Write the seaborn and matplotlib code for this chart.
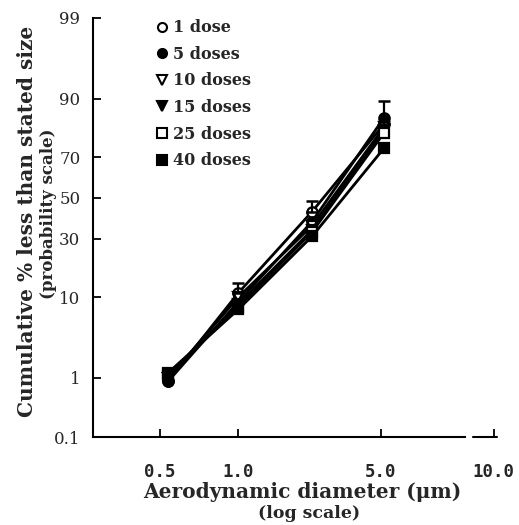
import math
import numpy as np
import pandas as pd
import seaborn as sns
import matplotlib.pyplot as plt
from matplotlib.lines import Line2D

# data
diameter = [0.54, 1.0, 2.3, 5.1]
doses = ['1 dose', '5 doses', '10 doses', '15 doses', '25 doses', '40 doses']
pct_1 = [0.9, 11.0, 43.0, 83.0]
pct_5 = [0.9, 9.0, 38.0, 85.0]
pct_10 = [1.0, 10.0, 36.0, 82.0]
pct_15 = [1.0, 8.5, 34.0, 81.0]
pct_25 = [1.1, 8.0, 33.0, 80.0]
pct_40 = [1.2, 7.5, 31.0, 74.0]
err_up_1 = [0.0, 2.5, 5.5, 6.5]
x_ticks = [0.5, 1.0, 5.0, 10.0]
y_ticks = [0.1, 1, 10, 30, 50, 70, 90, 99]

series = [pct_1, pct_5, pct_10, pct_15, pct_25, pct_40]
markers = ['o', 'o', 'v', 'v', 's', 's']
filled = [False, True, False, True, False, True]

rows = []
for name, vals in zip(doses, series):
    for d, v in zip(diameter, vals):
        rows.append({'dose': name, 'diameter': d, 'pct': v})
df = pd.DataFrame(rows)


# probability (probit) scale without scipy
def probit(p):
    p = np.clip(np.asarray(p, dtype=float) / 100.0, 1e-9, 1 - 1e-9)
    a = [-3.969683028665376e+01, 2.209460984245205e+02, -2.759285104469687e+02,
         1.383577518672690e+02, -3.066479806614716e+01, 2.506628277459239e+00]
    b = [-5.447609879822406e+01, 1.615858368580409e+02, -1.556989798598866e+02,
         6.680131188771972e+01, -1.328068155288572e+01]
    c = [-7.784894002430293e-03, -3.223964580411365e-01, -2.400758277161838e+00,
         -2.549732539343734e+00, 4.374664141464968e+00, 2.938163982698783e+00]
    d = [7.784695709041462e-03, 3.224671290700398e-01, 2.445134137142996e+00,
         3.754408661907416e+00]
    plow = 0.02425
    q = p - 0.5
    r = q * q
    central = ((((((a[0]*r + a[1])*r + a[2])*r + a[3])*r + a[4])*r + a[5]) * q /
               (((((b[0]*r + b[1])*r + b[2])*r + b[3])*r + b[4])*r + 1))
    ql = np.sqrt(-2 * np.log(p))
    low = ((((((c[0]*ql + c[1])*ql + c[2])*ql + c[3])*ql + c[4])*ql + c[5]) /
           ((((d[0]*ql + d[1])*ql + d[2])*ql + d[3])*ql + 1))
    qh = np.sqrt(-2 * np.log(1 - p))
    high = -((((((c[0]*qh + c[1])*qh + c[2])*qh + c[3])*qh + c[4])*qh + c[5]) /
             ((((d[0]*qh + d[1])*qh + d[2])*qh + d[3])*qh + 1))
    return np.where(p < plow, low, np.where(p > 1 - plow, high, central))


_erf = np.vectorize(math.erf)


def inv_probit(z):
    return 50.0 * (1 + _erf(np.asarray(z, dtype=float) / math.sqrt(2)))


# the original log axis is hand drawn: decades are not equally wide
log_knots = np.log10([0.25, 0.5, 1.0, 5.0, 10.0, 12.0])
px_knots = np.array([81.0, 159.0, 237.0, 378.0, 490.0, 519.0])


def x_fwd(x):
    x = np.clip(np.asarray(x, dtype=float), 1e-6, None)
    lx = np.log10(x)
    out = np.interp(lx, log_knots, px_knots)
    out = np.where(lx < log_knots[0], px_knots[0] + (lx - log_knots[0]) * 259, out)
    out = np.where(lx > log_knots[-1], px_knots[-1] + (lx - log_knots[-1]) * 372, out)
    return out


def x_inv(px):
    px = np.asarray(px, dtype=float)
    lx = np.interp(px, px_knots, log_knots)
    lx = np.where(px < px_knots[0], log_knots[0] + (px - px_knots[0]) / 259, lx)
    lx = np.where(px > px_knots[-1], log_knots[-1] + (px - px_knots[-1]) / 372, lx)
    return 10 ** lx


serif = 'DejaVu Serif'
sns.set_style('white')
plt.rcParams['font.family'] = [serif]

fig = plt.figure(figsize=(5.19, 5.25), dpi=100)
ax = fig.add_axes([93 / 519, 88 / 525, 404 / 519, 419 / 525])
ax.set_xscale('function', functions=(x_fwd, x_inv))
ax.set_yscale('function', functions=(probit, inv_probit))

for name, m, f in zip(doses, markers, filled):
    sub = df[df['dose'] == name]
    sns.lineplot(data=sub, x='diameter', y='pct', ax=ax, color='black',
                 linewidth=2.0, marker=m, markersize=7.5,
                 markerfacecolor='black' if f else 'white',
                 markeredgecolor='black', markeredgewidth=1.6)

ax.errorbar(diameter, pct_1, yerr=[[0] * 4, err_up_1], fmt='none',
            ecolor='black', elinewidth=1.6, capsize=4.5, capthick=1.8)

ax.set_xlim(0.278, 10.2)
ax.set_ylim(0.1, 99)
ax.set_xticks(x_ticks)
ax.set_xticklabels(['0.5', '1.0', '5.0', '10.0'], family='DejaVu Sans Mono',
                   fontweight='bold', fontsize=12.5)
ax.set_yticks(y_ticks)
ax.set_yticklabels(['0.1', '1', '10', '30', '50', '70', '90', '99'], fontsize=12)
ax.minorticks_off()
ax.set_xlabel('')
ax.set_ylabel('')
ax.tick_params(axis='x', bottom=True, direction='in', length=6, width=1.3,
               color='black', pad=19)
ax.tick_params(axis='y', left=True, direction='in', length=6, width=1.3,
               color='black', pad=9)
for s in ['top', 'right']:
    ax.spines[s].set_visible(False)
for s in ['left', 'bottom']:
    ax.spines[s].set_linewidth(1.5)
    ax.spines[s].set_color('black')
# broken x axis between 5 and 10
ax.spines['bottom'].set_bounds(0.278, 8.4)
ax.plot([8.8, 10.2], [0, 0], color='black', lw=1.5,
        transform=ax.get_xaxis_transform(), clip_on=False)

handles = [Line2D([], [], ls='none', marker=m, markersize=6.5, color='black',
                  markerfacecolor='black' if f else 'white', markeredgewidth=1.5)
           for m, f in zip(markers, filled)]
ax.legend(handles, doses, loc='upper left', bbox_to_anchor=(0.155, 0.997),
          frameon=False, borderaxespad=0, borderpad=0, handlelength=0.8,
          handletextpad=0.29, labelspacing=0.6,
          prop={'family': serif, 'weight': 'bold', 'size': 11.5})

fig.text(27 / 519, 1 - 221 / 525, 'Cumulative % less than stated size',
         rotation=90, ha='center', va='center', fontsize=14.5, fontweight='bold')
fig.text(49 / 519, 1 - 214 / 525, '(probability scale)',
         rotation=90, ha='center', va='center', fontsize=12, fontweight='bold')
fig.text(302 / 519, 1 - 492 / 525, 'Aerodynamic diameter (\u03bcm)',
         ha='center', va='center', fontsize=14.5, fontweight='bold')
fig.text(309 / 519, 1 - 513 / 525, '(log scale)',
         ha='center', va='center', fontsize=12.5, fontweight='bold')

plt.savefig('out.png', dpi=100)
